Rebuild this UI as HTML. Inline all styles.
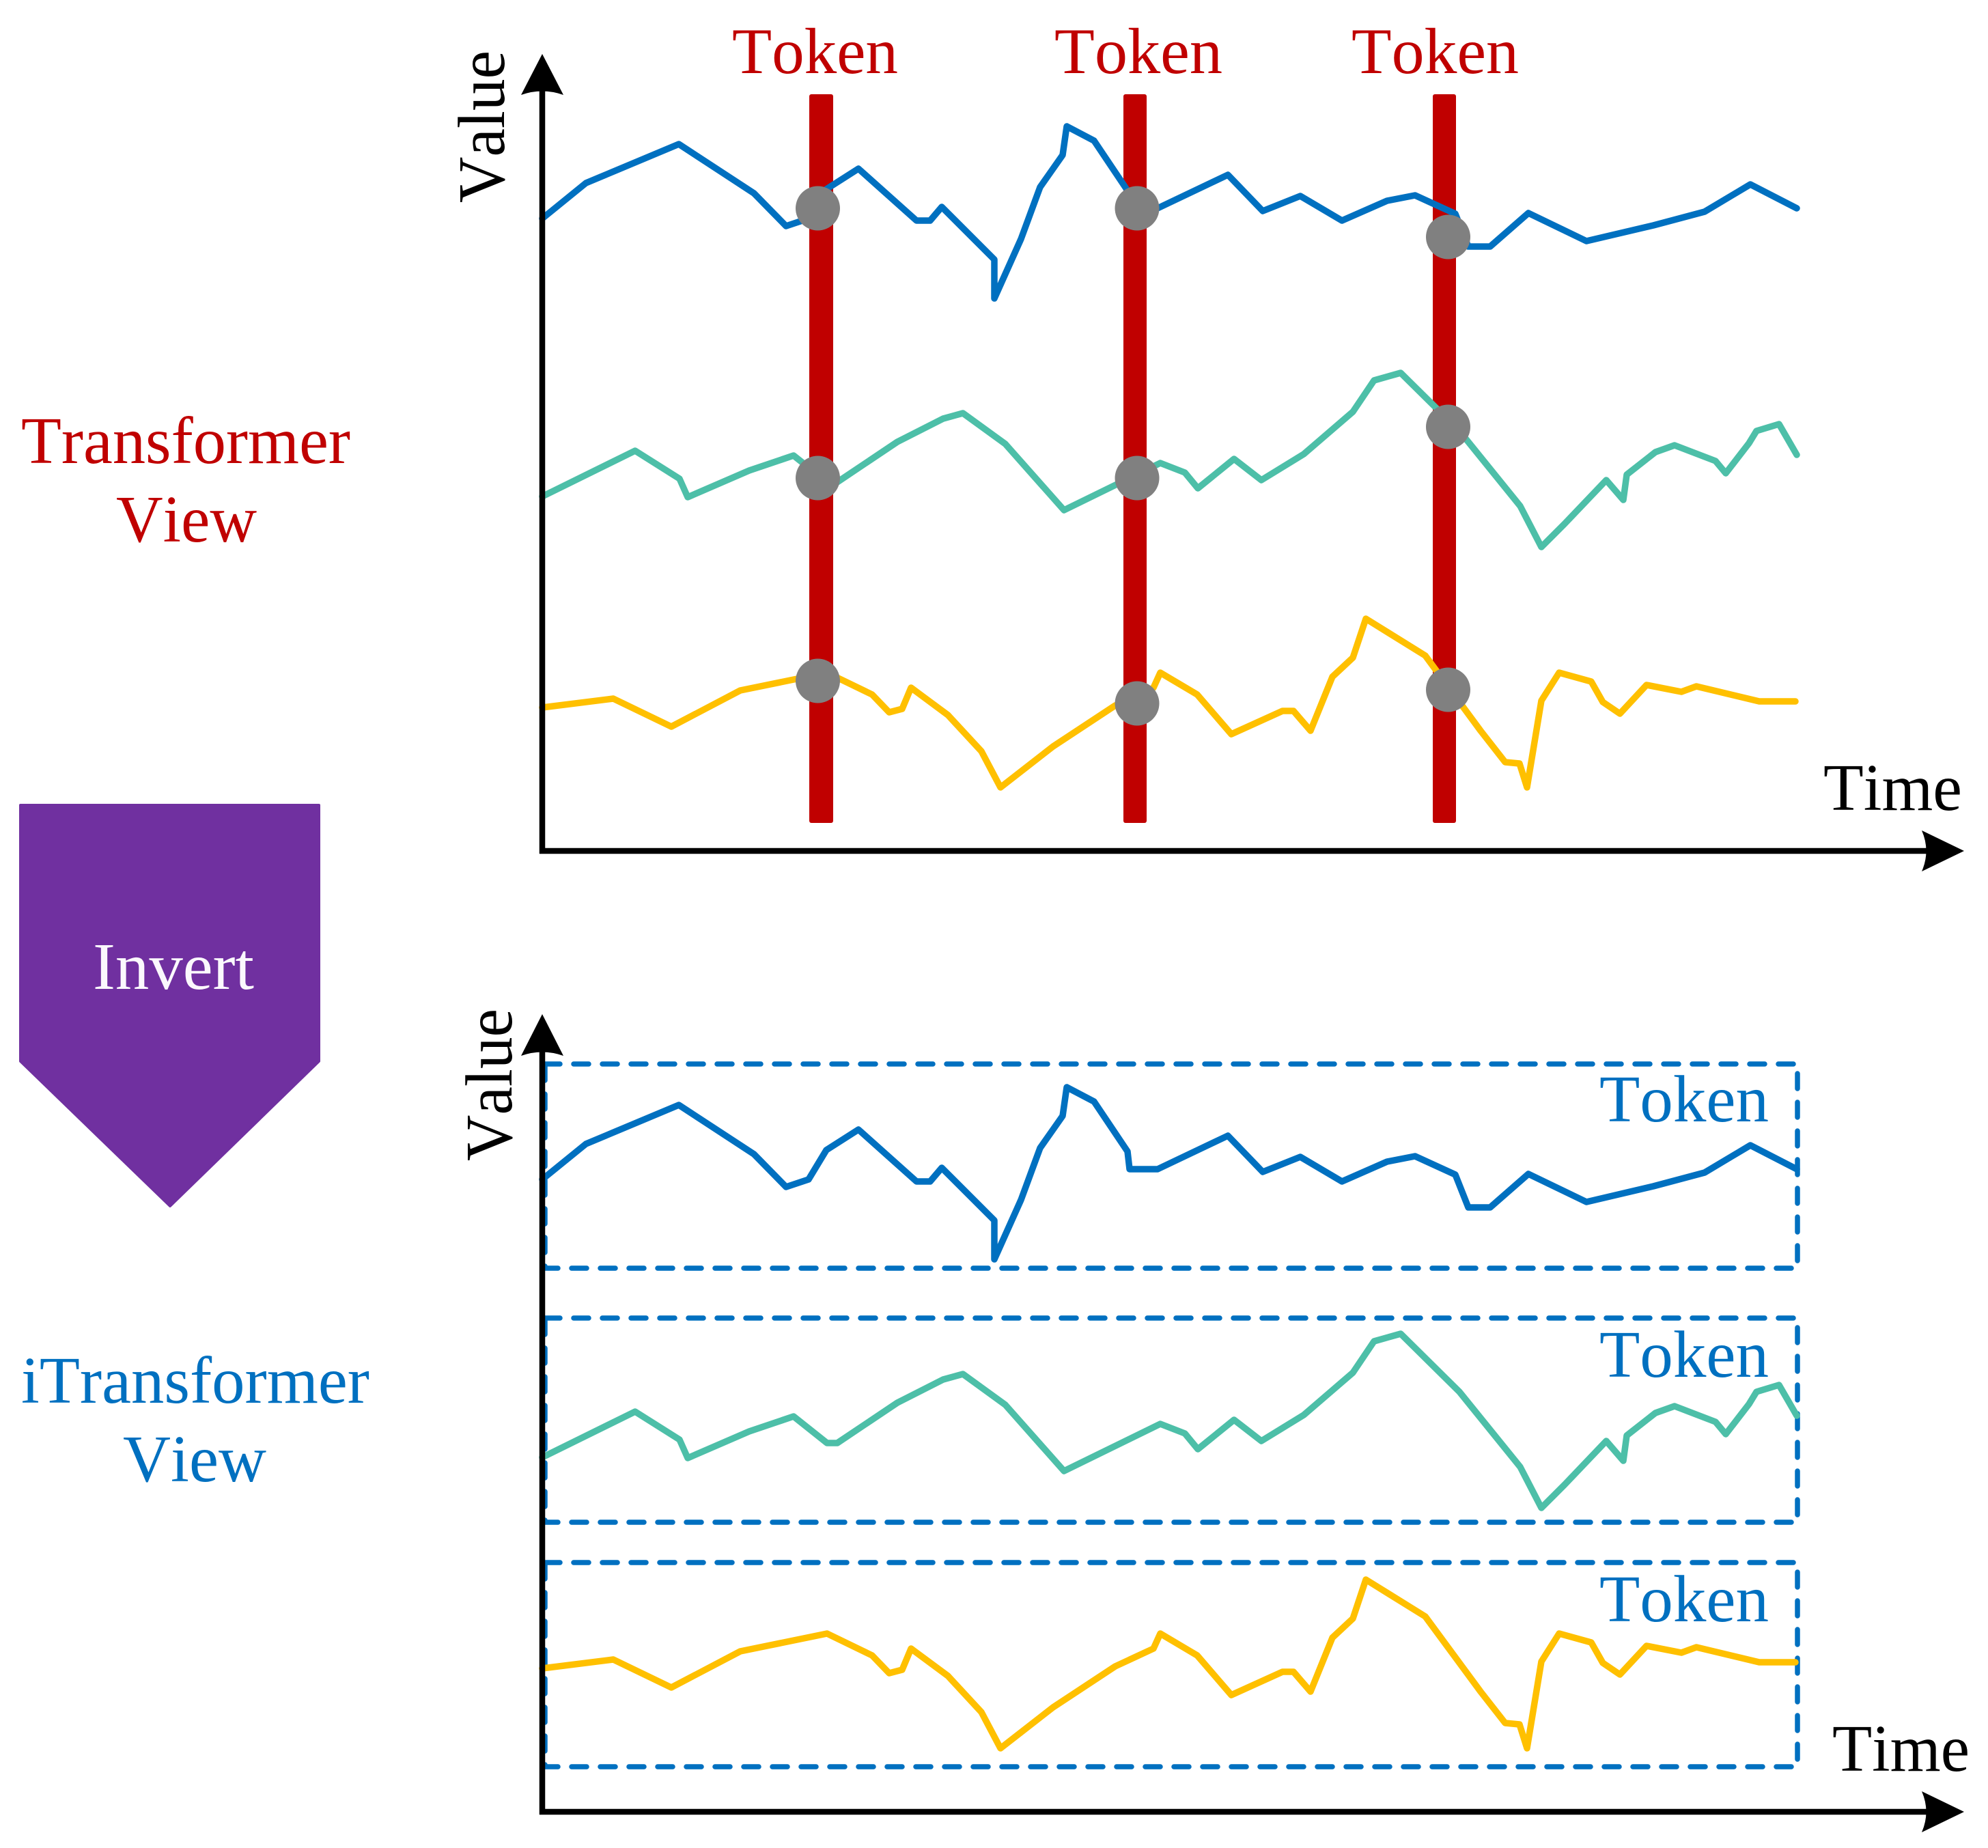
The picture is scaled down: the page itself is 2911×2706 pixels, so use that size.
<!DOCTYPE html>
<html lang="en">
<head>
<meta charset="utf-8">
<title>Transformer View vs iTransformer View</title>
<style>
html,body{margin:0;padding:0;background:#fff;}
svg{display:block;}
text{font-family:"Liberation Serif",serif;font-kerning:none;}
</style>
</head>
<body>
<svg id="chart" xmlns="http://www.w3.org/2000/svg" width="2911" height="2706" viewBox="0 0 2911 2706">
  <rect x="0" y="0" width="2911" height="2706" fill="#ffffff"/>

  <!-- left labels -->
  <text x="31" y="678" font-size="97" fill="#C00000" textLength="482" lengthAdjust="spacingAndGlyphs">Transformer</text>
  <text x="170" y="793" font-size="97" fill="#C00000" textLength="206" lengthAdjust="spacingAndGlyphs">View</text>
  <polygon points="30,1179 467,1179 467,1554 249,1766 30,1554" fill="#7030A0" stroke="#7030A0" stroke-width="4" stroke-linejoin="round"/>
  <text x="136" y="1448" font-size="97" fill="#FBF8FD" textLength="236" lengthAdjust="spacingAndGlyphs">Invert</text>
  <text x="31" y="2054" font-size="97" fill="#0070C0" textLength="510" lengthAdjust="spacingAndGlyphs">iTransformer</text>
  <text x="180" y="2169" font-size="97" fill="#0070C0" textLength="210" lengthAdjust="spacingAndGlyphs">View</text>

  <!-- top token labels -->
  <text x="1072" y="107" font-size="95" fill="#C00000" textLength="243" lengthAdjust="spacingAndGlyphs">Token</text>
  <text x="1544" y="107" font-size="95" fill="#C00000" textLength="246" lengthAdjust="spacingAndGlyphs">Token</text>
  <text x="1979" y="107" font-size="95" fill="#C00000" textLength="245" lengthAdjust="spacingAndGlyphs">Token</text>

  <!-- top token bars -->
  <rect x="1185" y="138" width="35" height="1067" rx="3" fill="#C00000"/>
  <rect x="1645" y="138" width="34" height="1067" rx="3" fill="#C00000"/>
  <rect x="2098" y="138" width="34" height="1067" rx="3" fill="#C00000"/>

  <!-- token boxes lower panel -->
  <rect x="798" y="1558" width="1834" height="299" fill="none" stroke="#0070C0" stroke-width="7.5" stroke-linecap="round" stroke-dasharray="22 20"/>
  <rect x="798" y="1930" width="1834" height="299" fill="none" stroke="#0070C0" stroke-width="7.5" stroke-linecap="round" stroke-dasharray="22 20"/>
  <rect x="798" y="2288" width="1834" height="299" fill="none" stroke="#0070C0" stroke-width="7.5" stroke-linecap="round" stroke-dasharray="22 20"/>
  <text x="2342" y="1642" font-size="97" fill="#0070C0" textLength="248" lengthAdjust="spacingAndGlyphs">Token</text>
  <text x="2342" y="2016" font-size="97" fill="#0070C0" textLength="248" lengthAdjust="spacingAndGlyphs">Token</text>
  <text x="2342" y="2374" font-size="97" fill="#0070C0" textLength="248" lengthAdjust="spacingAndGlyphs">Token</text>

  <g id="series-layer"></g>
  <g id="dot-layer"></g>

  <!-- axes -->
  <g>
    <line x1="794" y1="125" x2="794" y2="1250" stroke="#000" stroke-width="8.5"/>
    <line x1="790" y1="1246" x2="2830" y2="1246" stroke="#000" stroke-width="8.5"/>
    <path d="M794,79 L825,139 Q794,128 763,139 Z" fill="#000"/>
    <path d="M2876,1246 L2814,1216 Q2827,1246 2814,1276 Z" fill="#000"/>
    <text transform="translate(738,297) rotate(-90)" font-size="97" fill="#000" textLength="223" lengthAdjust="spacingAndGlyphs">Value</text>
    <text x="2670" y="1186" font-size="97" fill="#000" textLength="203" lengthAdjust="spacingAndGlyphs">Time</text>
  </g>
  <g>
    <line x1="794" y1="1530" x2="794" y2="2657" stroke="#000" stroke-width="8.5"/>
    <line x1="790" y1="2653" x2="2830" y2="2653" stroke="#000" stroke-width="8.5"/>
    <path d="M794,1485 L825,1546 Q794,1535 763,1546 Z" fill="#000"/>
    <path d="M2876,2653 L2814,2623 Q2827,2653 2814,2683 Z" fill="#000"/>
    <text transform="translate(749,1700) rotate(-90)" font-size="97" fill="#000" textLength="223" lengthAdjust="spacingAndGlyphs">Value</text>
    <text x="2683" y="2593" font-size="97" fill="#000" textLength="201" lengthAdjust="spacingAndGlyphs">Time</text>
  </g>
</svg>
<script>
var blueTime = [0,6.4,20,31,35.7,39,41.6,46.3,54.8,56.8,58.5,66.2,66.2,70.1,72.9,76.2,76.8,80.8,85.7,86,90.1,100.4,105.5,111,117.1,123.7,127.8,133.7,135.6,138.8,144.4,152.9,162.7,170.2,176.9,183.7];
var blueValue = [92.6,97.8,103.5,96.3,91.5,92.6,96.9,99.9,92.3,92.3,94.3,86.6,80.9,89.6,97.2,101.9,106.1,104,96.7,94.1,94.1,99,93.7,95.9,92.3,95.2,96,93.3,88.5,88.5,93.4,89.3,91.6,93.6,97.6,94.1];
var tealTime = [0,13.6,20.1,21.3,30.3,36.8,41.7,43.2,52,58.7,61.6,67.8,76.4,90.5,94.1,96,101.3,105.3,111.5,118.7,121.8,125.7,134.3,143.2,146.3,149.7,155.8,158.3,158.8,163,165.8,171.8,173.3,176.7,177.8,181.1,183.7];
var tealValue = [51.9,58.6,54.5,51.8,55.7,57.9,54,54,59.9,63.3,64.1,59.6,49.9,56.8,55.4,53.1,57.4,54.3,58.1,64.3,68.9,70,61.5,50.5,44.5,47.9,54.3,51.4,55.1,58.4,59.4,57.1,55.3,59.7,61.5,62.5,58];
var yellowTime = [0,10.4,18.9,29,41.7,48.3,50.8,52.7,54,59.4,64.3,67.1,74.8,83.9,89.5,90.5,95.9,100.9,108.4,110,112.5,115.7,118.7,120.6,129.3,137.4,141,143.1,144.2,146.3,148.9,153.6,155.3,157.8,161.7,166.8,169,178.2,183.5];
var yellowValue = [21,22.3,18.2,23.5,26.1,22.9,20.3,20.8,23.9,19.9,14.6,9.3,15.3,21.3,23.9,26.1,22.9,17.1,20.5,20.5,17.6,25.5,28.3,34,28.6,17.6,13,12.8,9.3,22,26.1,24.8,21.8,20.1,24.3,23.3,24.1,21.9,21.9];
var tokenTimes = [40.35,87.1,132.65];
var dotBlue = [94.1,94.1,89.9];
var dotTeal = [54.6,54.6,62.1];
var dotYellow = [24.9,21.6,23.6];

var NS = 'http://www.w3.org/2000/svg';
var xScale = function (t) { return 794 + t * 10; };
var topY = function (v) { return 1246 - v * 10; };
var bottomY = function (v) { return 2653 - v * 10; };
var seriesLayer = document.getElementById('series-layer');
var dotLayer = document.getElementById('dot-layer');

function drawLine(times, values, yScale, color, label) {
  var pts = [];
  for (var i = 0; i < times.length; i++) {
    pts.push(xScale(times[i]).toFixed(1) + ',' + yScale(values[i]).toFixed(1));
  }
  var el = document.createElementNS(NS, 'polyline');
  el.setAttribute('points', pts.join(' '));
  el.setAttribute('fill', 'none');
  el.setAttribute('stroke', color);
  el.setAttribute('stroke-width', '9.5');
  el.setAttribute('stroke-linejoin', 'round');
  el.setAttribute('stroke-linecap', 'round');
  
  
  seriesLayer.appendChild(el);
}

function drawDots(values, label) {
  for (var i = 0; i < tokenTimes.length; i++) {
    var c = document.createElementNS(NS, 'circle');
    c.setAttribute('cx', xScale(tokenTimes[i]));
    c.setAttribute('cy', topY(values[i]));
    c.setAttribute('r', '32.5');
    c.setAttribute('fill', '#808080');
    
    
    dotLayer.appendChild(c);
  }
}

drawLine(blueTime, blueValue, topY, '#0070C0', 'top-blue-series');
drawLine(tealTime, tealValue, topY, '#4DBFA8', 'top-teal-series');
drawLine(yellowTime, yellowValue, topY, '#FFC000', 'top-yellow-series');
drawLine(blueTime, blueValue, bottomY, '#0070C0', 'bottom-blue-series');
drawLine(tealTime, tealValue, bottomY, '#4DBFA8', 'bottom-teal-series');
drawLine(yellowTime, yellowValue, bottomY, '#FFC000', 'bottom-yellow-series');
drawDots(dotBlue, 'token-dot-blue');
drawDots(dotTeal, 'token-dot-teal');
drawDots(dotYellow, 'token-dot-yellow');
</script>
</body>
</html>
